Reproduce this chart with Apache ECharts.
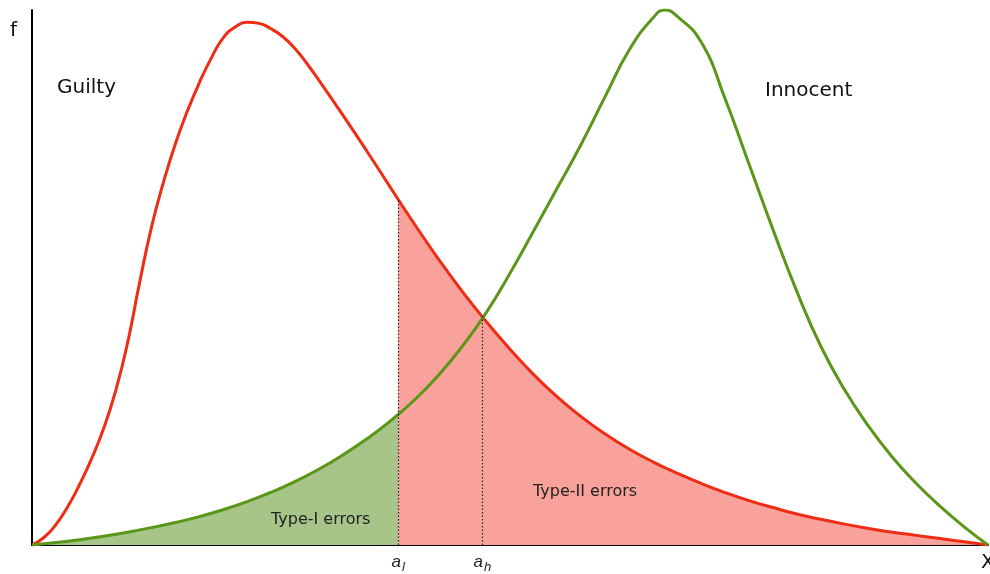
<!DOCTYPE html>
<html>
<head>
<meta charset="utf-8">
<script src="https://cdn.jsdelivr.net/npm/echarts@6/dist/echarts.min.js"></script>
<style>
  html, body { margin: 0; padding: 0; background: #fff; }
  #chart { width: 990px; height: 574px; }
</style>
</head>
<body>
<div id="chart"></div>
<script>
// x positions of the "Guilty" samples (0..100 across the axis), denser round the rise and peak
const guiltyX = [0, 1.25, 2.5, 3.75, 5, 6.25, 7.5, 8.75, 10, 11.25, 12.5, 13.75, 15, 16.25, 17.5, 18.75, 20,
    21.25, 22.5, 23.75, 25, 26.25, 27.5, 28.75, 30, 32.5, 35, 37.5, 40, 42.5, 45, 47.5, 50, 52.5, 55, 57.5, 60,
    62.5, 65, 67.5, 70, 72.5, 75, 77.5, 80, 82.5, 85, 87.5, 90, 92.5, 95, 97.5, 100];
// density of the "Guilty" curve
const guiltyF = [0, 1.4, 3.8, 7.2, 11.4, 16.2, 21.8, 28.8, 37.8, 49.0, 59.4, 67.8, 75.0, 81.1, 86.4, 91.0, 94.8,
    96.8, 97.7, 97.5, 96.5, 95.0, 92.8, 90.0, 86.9, 80.4, 73.7, 66.8, 60.0, 53.5, 47.4, 41.8, 36.6, 31.8, 27.6,
    23.9, 20.7, 17.9, 15.5, 13.4, 11.5, 9.8, 8.3, 7.0, 5.8, 4.8, 3.9, 3.1, 2.4, 1.8, 1.2, 0.6, 0];
// x positions of the "Innocent" samples (one extra at its peak)
const innocentX = [0, 2.5, 5, 7.5, 10, 12.5, 15, 17.5, 20, 22.5, 25, 27.5, 30, 32.5, 35, 37.5, 40, 42.5, 45, 47.5,
    50, 52.5, 55, 57.5, 60, 62.5, 65, 66.2, 67.5, 70, 72.5, 75, 77.5, 80, 82.5, 85, 87.5, 90, 92.5, 95, 97.5, 100];
const innocentF = [0, 0.45, 1.0, 1.65, 2.4, 3.25, 4.2, 5.3, 6.6, 8.1, 9.85, 11.85, 14.15, 16.8, 19.8, 23.2,
    27.1, 31.7, 37.1, 43.4, 50.8, 58.8, 66.9, 75.1, 84.0, 92.6, 98.6, 100, 98.8, 94.0, 83.4, 71.2, 59.0, 47.4,
    37.2, 29.0, 22.2, 16.4, 11.5, 7.2, 3.4, 0];

// thresholds a_l, a_h and the curve heights there
const thresholds = [38.3, 47.1];
const thresholdLabels = ['{a|a}{s|l}', '{a|a}{s|h}'];
const guiltyAtThreshold = [64.6, 42.8];
const innocentAtLow = 24.3;

const colorGuilty = '#ef2d14';
const colorInnocent = '#5a9618';

function pairs(xs, ys, from, to) {
    const out = [];
    for (let i = 0; i < xs.length; i++) {
        if (xs[i] >= from && xs[i] <= to) out.push([xs[i], ys[i]]);
    }
    return out;
}

const chart = echarts.init(document.getElementById('chart'));

const curveBase = {
    type: 'line',
    smooth: 0.5,
    showSymbol: false
};

chart.setOption({
    animation: false,
    grid: { left: 32, right: 2, top: 10, bottom: 27 },
    xAxis: {
        type: 'value',
        min: 0,
        max: 100,
        axisLine: { lineStyle: { color: '#000', width: 2 } },
        axisTick: { show: false },
        splitLine: { show: false },
        axisLabel: {
            customValues: thresholds,
            formatter: function (v) {
                return thresholdLabels[thresholds.indexOf(v)];
            },
            margin: 6,
            rich: {
                a: { fontFamily: 'Liberation Sans', fontStyle: 'italic', fontSize: 17, color: '#222' },
                s: { fontFamily: 'Liberation Sans', fontStyle: 'italic', fontSize: 13, color: '#222', padding: [10, 0, 0, 1] }
            }
        }
    },
    yAxis: {
        type: 'value',
        min: 0,
        max: 100,
        axisLine: { show: true, lineStyle: { color: '#000', width: 2 } },
        axisTick: { show: false },
        axisLabel: { show: false },
        splitLine: { show: false }
    },
    series: [
        Object.assign({}, curveBase, {
            name: 'type1',
            silent: true,
            lineStyle: { width: 0 },
            data: pairs(innocentX, innocentF, 0, thresholds[0]).concat([[thresholds[0], innocentAtLow]]),
            areaStyle: { color: '#a7c489', opacity: 1 }
        }),
        Object.assign({}, curveBase, {
            name: 'type2',
            silent: true,
            lineStyle: { width: 0 },
            data: [[thresholds[0], guiltyAtThreshold[0]]].concat(pairs(guiltyX, guiltyF, thresholds[0], 100)),
            areaStyle: { color: '#f9a29b', opacity: 1 },
            markLine: {
                silent: true,
                symbol: 'none',
                label: { show: false },
                lineStyle: { color: '#222', type: [1.5, 2], width: 1.2 },
                data: thresholds.map(function (t, i) {
                    return [{ coord: [t, 0] }, { coord: [t, guiltyAtThreshold[i]] }];
                })
            }
        }),
        Object.assign({}, curveBase, {
            name: 'Guilty',
            data: pairs(guiltyX, guiltyF, 0, 100),
            lineStyle: { color: colorGuilty, width: 3 },
            z: 3
        }),
        Object.assign({}, curveBase, {
            name: 'Innocent',
            data: pairs(innocentX, innocentF, 0, 100),
            lineStyle: { color: colorInnocent, width: 3 },
            z: 4
        })
    ],
    graphic: [
        { type: 'text', left: 10, top: 21, style: { text: 'f', font: '20px "DejaVu Sans"', fill: '#111' } },
        { type: 'text', left: 981, top: 553, style: { text: 'X', font: '20px "DejaVu Sans"', fill: '#111' } },
        { type: 'text', left: 57, top: 78, style: { text: 'Guilty', font: '20px "DejaVu Sans"', fill: '#111' } },
        { type: 'text', left: 765, top: 81, style: { text: 'Innocent', font: '20px "DejaVu Sans"', fill: '#111' } },
        { type: 'text', left: 271, top: 512, z: 10, style: { text: 'Type-I errors', font: '16px "DejaVu Sans"', fill: '#222' } },
        { type: 'text', left: 533, top: 484, z: 10, style: { text: 'Type-II errors', font: '16px "DejaVu Sans"', fill: '#222' } }
    ]
});
</script>
</body>
</html>
